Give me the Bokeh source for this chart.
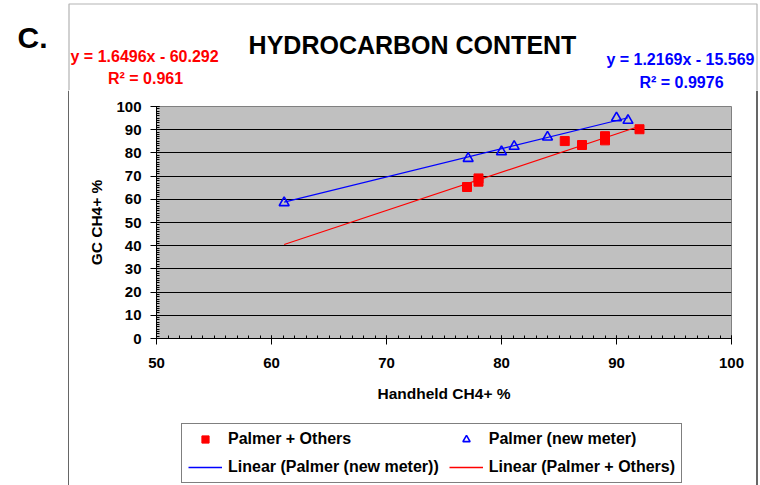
from bokeh.plotting import figure
from bokeh.layouts import column, row
from bokeh.models import (Range1d, SingleIntervalTicker, Label, Legend, LegendItem,
                          Span, BoxAnnotation)
from bokeh.embed import file_html
from bokeh.resources import INLINE

# ---------------- data ----------------
others_x = [77.0, 78.0, 78.0, 85.5, 87.0, 89.0, 89.0, 92.0]
others_y = [65.3, 69.0, 67.6, 85.1, 83.4, 87.2, 85.4, 90.2]
newmeter_x = [61.1, 77.1, 80.0, 81.1, 84.0, 90.0, 91.0]
newmeter_y = [58.5, 77.6, 80.5, 82.8, 86.8, 95.1, 94.0]

others_fit = (1.6496, -60.292)      # slope, intercept
newmeter_fit = (1.2169, -15.569)
others_trend_x = [61.1, 92.0]
newmeter_trend_x = [61.1, 91.0]

others_eq = ["y = 1.6496x - 60.292", "R² = 0.961"]
newmeter_eq = ["y = 1.2169x - 15.569", "R² = 0.9976"]

others_trend_y = [others_fit[0] * v + others_fit[1] for v in others_trend_x]
newmeter_trend_y = [newmeter_fit[0] * v + newmeter_fit[1] for v in newmeter_trend_x]

FONT = "Liberation Sans"
RED = "#FF0000"
BLUE = "#0000FF"
TOP_H = 90
ROW_H = 485 - TOP_H
MAIN_H = 330
LEG_H = ROW_H - MAIN_H
MID_W = 676


def blank(width, height, x0, x1, y0, y1):
    f = figure(width=width, height=height, output_backend="svg",
               toolbar_location=None, title=None, x_axis_type=None,
               y_axis_type=None, x_range=Range1d(x0, x1), y_range=Range1d(y0, y1),
               min_border=0)
    f.outline_line_color = None
    f.background_fill_color = "white"
    f.border_fill_color = "white"
    return f


# ---------------- top strip: titles, equations, border ----------------
top = blank(760, TOP_H, 0, 760, TOP_H, 0)
top.add_layout(BoxAnnotation(left=68.5, right=756.5, top=3.5, bottom=TOP_H + 20,
                             fill_alpha=0, line_color="black", line_width=1.2))


def lab(fig, text, x, y, size, color, align="left"):
    fig.add_layout(Label(x=x, y=y, text=text, text_font=FONT,
                         text_font_style="bold", text_font_size=size,
                         text_color=color, text_align=align,
                         text_baseline="alphabetic"))


lab(top, "C.", 17, 37, "30px", "black")
lab(top, "HYDROCARBON CONTENT", 412, 44, "25px", "black", "center")
lab(top, others_eq[0], 70, 56, "16px", RED)
lab(top, others_eq[1], 145, 78, "16px", RED, "center")
lab(top, newmeter_eq[0], 754, 59, "16px", BLUE, "right")
lab(top, newmeter_eq[1], 681, 82, "16px", BLUE, "center")

# ---------------- left / right border strips ----------------
left = blank(69, ROW_H, 0, 69, 0, ROW_H)
left.add_layout(Span(location=68.5, dimension="height", line_color="black",
                     line_width=1.2))
right = blank(15, ROW_H, 745, 760, 0, ROW_H)
right.add_layout(Span(location=756.5, dimension="height", line_color="black",
                      line_width=1.2))

# ---------------- main chart ----------------
p = figure(width=MID_W, height=MAIN_H, output_backend="svg", toolbar_location=None,
           title=None, x_range=Range1d(50, 100), y_range=Range1d(0, 100),
           min_border_left=87, min_border_right=14, min_border_top=16,
           min_border_bottom=MAIN_H - 16 - 232)
p.background_fill_color = "#C0C0C0"
p.border_fill_color = "white"
p.outline_line_color = "#808080"

p.xaxis.ticker = SingleIntervalTicker(interval=10, num_minor_ticks=10)
p.yaxis.ticker = SingleIntervalTicker(interval=10, num_minor_ticks=10)
p.xgrid.grid_line_color = None
p.ygrid.grid_line_color = "black"
p.ygrid.grid_line_width = 1

for ax in (p.xaxis[0], p.yaxis[0]):
    ax.axis_line_color = "black"
    ax.major_tick_line_color = "black"
    ax.minor_tick_line_color = "black"
    ax.major_tick_out = 6
    ax.major_tick_in = 3
    ax.minor_tick_in = 3
    ax.minor_tick_out = 0
    ax.major_label_text_font = FONT
    ax.major_label_text_font_style = "bold"
    ax.major_label_text_font_size = "15px"
    ax.major_label_text_color = "black"
    ax.axis_label_text_font = FONT
    ax.axis_label_text_font_style = "bold"
    ax.axis_label_text_font_size = "15.5px"
    ax.axis_label_text_color = "black"

p.xaxis.axis_label = "Handheld CH4+ %"
p.yaxis.axis_label = "GC CH4+ %"
p.xaxis.major_label_standoff = 13
p.yaxis.major_label_standoff = 9
p.xaxis.axis_label_standoff = 14
p.yaxis.axis_label_standoff = 8

sq_kw = dict(marker="square", size=9, fill_color=RED, line_color=RED)
tri_kw = dict(marker="triangle", size=10, fill_color=None, line_color=BLUE,
              line_width=1.6)

# trend lines
p.line(newmeter_trend_x, newmeter_trend_y, line_color=BLUE, line_width=1.1)
p.line(others_trend_x, others_trend_y, line_color=RED, line_width=1.1)
# points
p.scatter(others_x, others_y, **sq_kw)
p.scatter(newmeter_x, newmeter_y, **tri_kw)

# ---------------- legend strip (its glyphs lie outside its own view) ----------------
leg = blank(MID_W, LEG_H, 1000, 1000 + MID_W, 0, LEG_H)
k_oth = leg.scatter(others_x, others_y, **sq_kw)
k_new = leg.scatter(newmeter_x, newmeter_y, **tri_kw)
k_lnew = leg.segment(x0=[newmeter_trend_x[0]], y0=[newmeter_trend_y[0]],
                     x1=[newmeter_trend_x[1]], y1=[newmeter_trend_y[1]],
                     line_color=BLUE, line_width=1.3)
k_loth = leg.segment(x0=[others_trend_x[0]], y0=[others_trend_y[0]],
                     x1=[others_trend_x[1]], y1=[others_trend_y[1]],
                     line_color=RED, line_width=1.3)

# column-major order: column 1 then column 2
legend = Legend(items=[
    LegendItem(label="Palmer + Others", renderers=[k_oth]),
    LegendItem(label="Linear (Palmer (new meter))", renderers=[k_lnew]),
    LegendItem(label="Palmer (new meter)", renderers=[k_new]),
    LegendItem(label="Linear (Palmer + Others)", renderers=[k_loth]),
], ncols=2, location=(25, 2))
legend.label_text_font = FONT
legend.label_text_font_style = "bold"
legend.label_text_font_size = "16px"
legend.label_text_color = "black"
legend.glyph_width = 34
legend.glyph_height = 18
legend.label_height = 18
legend.label_standoff = 6
legend.spacing = 10
legend.padding = 6
legend.margin = 0
legend.border_line_color = "black"
legend.border_line_width = 1
legend.background_fill_color = "white"
legend.background_fill_alpha = 1
leg.add_layout(legend)

layout = column(top, row(left, column(p, leg), right))
open("out.html", "w").write(file_html(layout, INLINE))
